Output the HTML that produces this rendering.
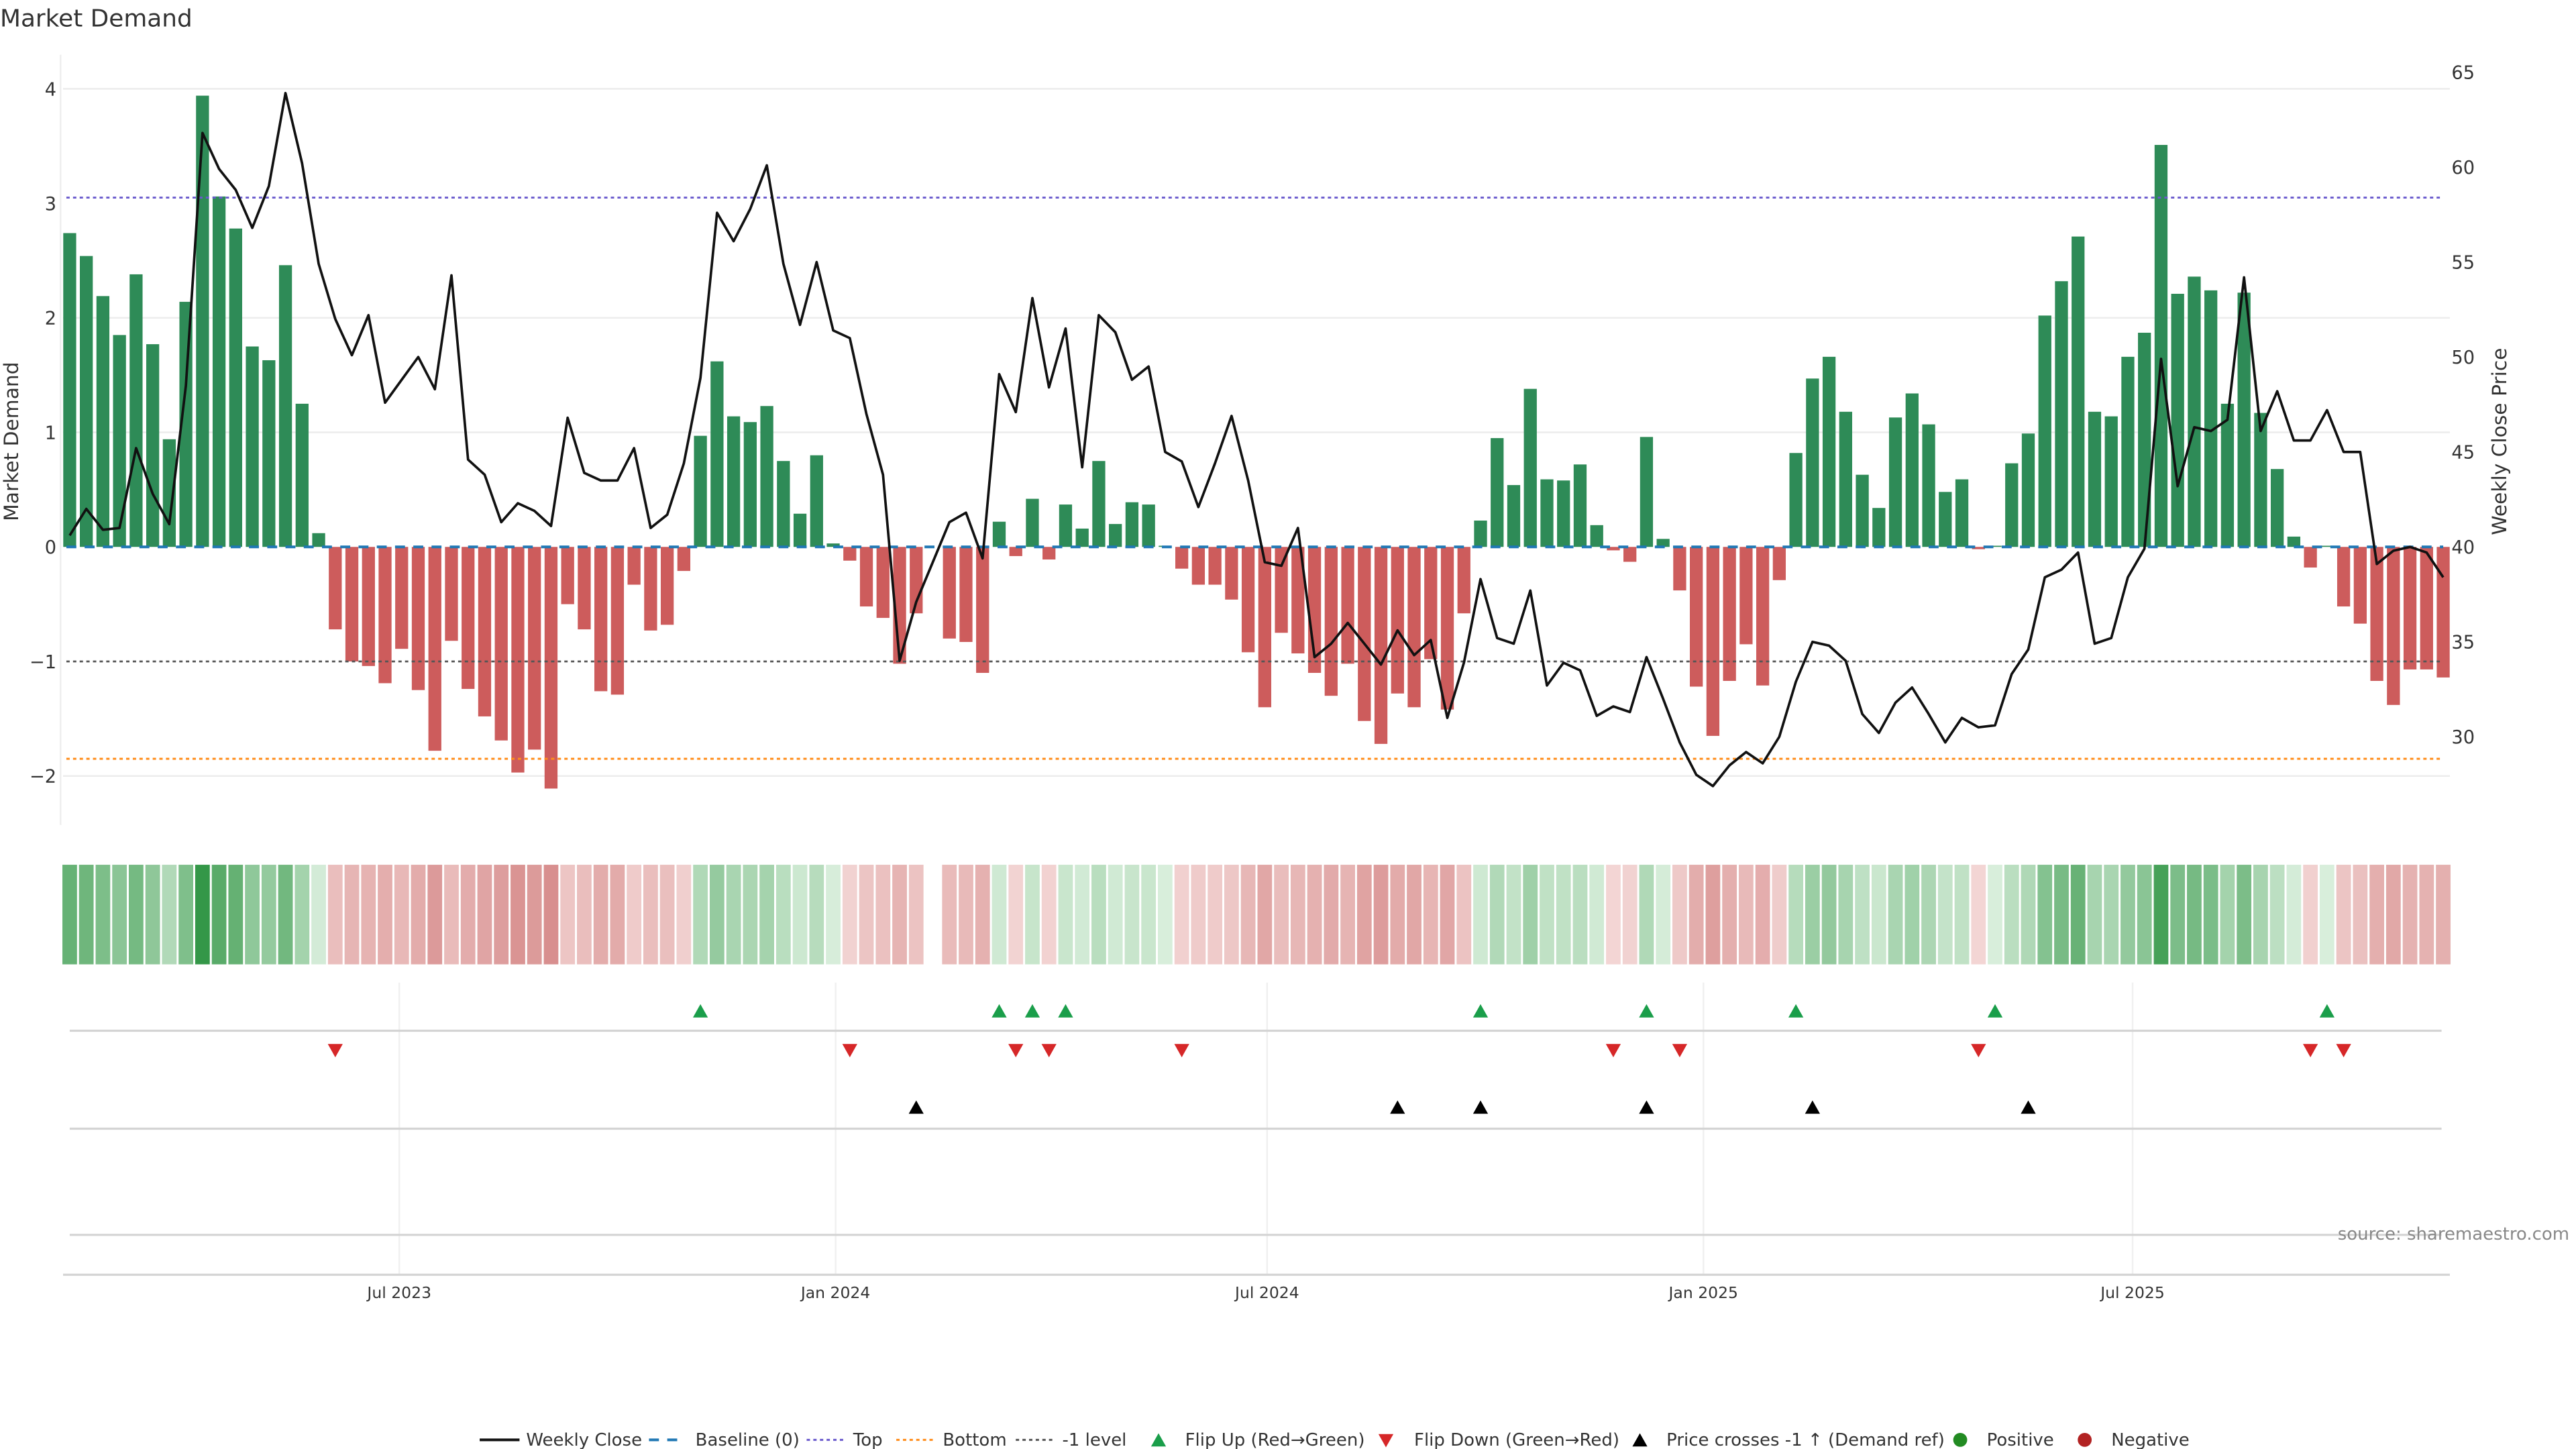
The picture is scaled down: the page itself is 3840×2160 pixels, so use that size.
<!DOCTYPE html>
<html><head><meta charset="utf-8"><style>
html,body{margin:0;padding:0;background:#fff;}
svg{display:block;font-family:"DejaVu Sans","Liberation Sans",sans-serif;}
</style></head><body>
<svg id="chart" width="3840" height="2160" viewBox="0 0 1552 873" xmlns="http://www.w3.org/2000/svg">
<text x="0" y="16" font-size="14.5" fill="#333">Market Demand</text>
<line x1="36.5" y1="33" x2="36.5" y2="497" stroke="#eee" stroke-width="1"/>
<g id="grid"></g>
<g id="bars"></g>
<g id="refs"></g>
<path id="price" fill="none" stroke="#111" stroke-width="1.5" stroke-linejoin="round"/>
<g id="ticks"></g>
<text transform="translate(11,266) rotate(-90)" text-anchor="middle" font-size="12" fill="#333">Market Demand</text>
<text transform="translate(1510,266) rotate(-90)" text-anchor="middle" font-size="12" fill="#333">Weekly Close Price</text>
<g id="heat"></g>
<g id="events"></g>
<text x="1548" y="747" text-anchor="end" font-size="10.5" fill="#888">source: sharemaestro.com</text>
<g id="legend" font-size="10.5" fill="#333"></g>
</svg>
<script>
const demand = [2.74,2.54,2.19,1.85,2.38,1.77,0.94,2.14,3.94,3.06,2.78,1.75,1.63,2.46,1.25,0.12,-0.72,-1.0,-1.04,-1.19,-0.89,-1.25,-1.78,-0.82,-1.24,-1.48,-1.69,-1.97,-1.77,-2.11,-0.50,-0.72,-1.26,-1.29,-0.33,-0.73,-0.68,-0.21,0.97,1.62,1.14,1.09,1.23,0.75,0.29,0.80,0.03,-0.12,-0.52,-0.62,-1.02,-0.58,null,-0.80,-0.83,-1.10,0.22,-0.08,0.42,-0.11,0.37,0.16,0.75,0.20,0.39,0.37,0.01,-0.19,-0.33,-0.33,-0.46,-0.92,-1.40,-0.75,-0.93,-1.10,-1.30,-1.02,-1.52,-1.72,-1.28,-1.40,-0.98,-1.42,-0.58,0.23,0.95,0.54,1.38,0.59,0.58,0.72,0.19,-0.03,-0.13,0.96,0.07,-0.38,-1.22,-1.65,-1.17,-0.85,-1.21,-0.29,0.82,1.47,1.66,1.18,0.63,0.34,1.13,1.34,1.07,0.48,0.59,-0.02,0.01,0.73,0.99,2.02,2.32,2.71,1.18,1.14,1.66,1.87,3.51,2.21,2.36,2.24,1.25,2.22,1.17,0.68,0.09,-0.18,0.01,-0.52,-0.67,-1.17,-1.38,-1.07,-1.07,-1.14];
const closePrice = [40.6,42.0,40.9,41.0,45.2,42.8,41.2,48.5,61.8,59.9,58.8,56.8,59.0,63.9,60.2,54.9,52.0,50.1,52.2,47.6,48.8,50.0,48.3,54.3,44.6,43.8,41.3,42.3,41.9,41.1,46.8,43.9,43.5,43.5,45.2,41.0,41.7,44.4,48.9,57.6,56.1,57.8,60.1,54.9,51.7,55.0,51.4,51.0,47.0,43.8,34.0,37.1,39.2,41.3,41.8,39.4,49.1,47.1,53.1,48.4,51.5,44.2,52.2,51.3,48.8,49.5,45.0,44.5,42.1,44.4,46.9,43.5,39.2,39.0,41.0,34.2,34.9,36.0,34.9,33.8,35.6,34.3,35.1,31.0,33.9,38.3,35.2,34.9,37.7,32.7,33.9,33.5,31.1,31.6,31.3,34.2,32.0,29.7,28.0,27.4,28.5,29.2,28.6,30.0,32.9,35.0,34.8,34.0,31.2,30.2,31.8,32.6,31.2,29.7,31.0,30.5,30.6,33.3,34.6,38.4,38.8,39.7,34.9,35.2,38.4,39.9,49.9,43.2,46.3,46.1,46.7,54.2,46.1,48.2,45.6,45.6,47.2,45.0,45.0,39.1,39.8,40.0,39.7,38.4];
const leftTicks = [4,3,2,1,0,-1,-2];
const rightTicks = [65,60,55,50,45,40,35,30];
const dateTicks = ["2023-07-01","2024-01-01","2024-07-01","2025-01-01","2025-07-01"];
const dateLabels = ["Jul 2023","Jan 2024","Jul 2024","Jan 2025","Jul 2025"];
const topLevel = 3.05, bottomLevel = -1.85, minusLevel = -1, refPrice = 34;

const NS="http://www.w3.org/2000/svg";
function mk(tag, attrs, parent){const e=document.createElementNS(NS,tag);for(const k in attrs)e.setAttribute(k,attrs[k]);parent.appendChild(e);return e;}
const xi = i => 42 + i*10;
const yL = v => 329.5 - v*69;
const yR = p => 329.5 - (p-40)*11.44;
const t0 = Date.UTC(2023,1,12);
const xd = s => 42 + (Date.parse(s+"T00:00:00Z")-t0)/86400000/7*10;
const $ = id => document.getElementById(id);

// grid
[4,2,1,-2].forEach(v=>{const l=mk('line',{x1:38,x2:1476,y1:yL(v),y2:yL(v),stroke:'#ececec','stroke-width':1},$('grid'));

});

// bars
demand.forEach((v,i)=>{ if(v===null) return;
  const y=Math.min(yL(v),yL(0)), h=Math.abs(yL(v)-yL(0));
  const r=mk('rect',{x:xi(i)-3.9,y:y,width:7.8,height:Math.max(h,0.3),fill:v>=0?'#2e8b57':'#cd5c5c'},$('bars'));
  
  
});

// reference lines
[[0,'#1f77b4','6,5',1.6,'baseline-line'],[topLevel,'#6a5acd','2,2',1.2,'top-line'],[bottomLevel,'#ff8c1a','2,2',1.2,'bottom-line'],[minusLevel,'#555','2,2',1.1,'minus-one-line']].forEach(d=>{
  const l=mk('line',{x1:40,x2:1472,y1:yL(d[0]),y2:yL(d[0]),stroke:d[1],'stroke-dasharray':d[2],'stroke-width':d[3]},$('refs'));
  
  
});

// price line
$('price').setAttribute('d', closePrice.map((p,i)=>(i?'L':'M')+xi(i)+','+yR(p).toFixed(1)).join(''));

// ticks
leftTicks.forEach(v=>{const t=mk('text',{x:34,y:yL(v)+4,'text-anchor':'end','font-size':11,fill:'#333'},$('ticks'));t.textContent=(v<0?'\u2212'+(-v):v);

});
rightTicks.forEach(v=>{const t=mk('text',{x:1477,y:yR(v)+4,'font-size':11,fill:'#333'},$('ticks'));t.textContent=v;

});
dateTicks.forEach((d,i)=>{const x=xd(d);
  const g=mk('line',{x1:x,x2:x,y1:592,y2:768,stroke:'#f0f0f0','stroke-width':1},$('ticks'));
  
  
  const t=mk('text',{x:x,y:782,'text-anchor':'middle','font-size':9.5,fill:'#333'},$('ticks'));t.textContent=dateLabels[i];
  
  });

// heatmap
function heatColor(v){const t=Math.min(Math.abs(v)/4,1);
  if(v>=0){return `rgb(${Math.round(216-166*t)},${Math.round(238-88*t)},${Math.round(219-149*t)})`;}
  return `rgb(${Math.round(243-51*t)},${Math.round(214-134*t)},${Math.round(213-133*t)})`;}
demand.forEach((v,i)=>{ if(v===null) return;
  const r=mk('rect',{x:xi(i)-4.4,y:521,width:8.8,height:60,fill:heatColor(v)},$('heat'));
  
  
});

// event panels
[621,680,744].forEach(y=>{const l=mk('line',{x1:42,x2:1471,y1:y,y2:y,stroke:'#d4d4d4','stroke-width':1.3},$('events'));

});
const ax=mk('line',{x1:38,x2:1476,y1:768,y2:768,stroke:'#d4d4d4','stroke-width':1.3},$('events'));


function tri(x,y,up,color,name){
  const p=up?`${x-4.5},${y+4} ${x+4.5},${y+4} ${x},${y-4}`:`${x-4.5},${y-4} ${x+4.5},${y-4} ${x},${y+4}`;
  const e=mk('polygon',{points:p,fill:color},$('events'));
  
  
}
let prev=null;
demand.forEach((v,i)=>{ if(v===null) return;
  if(prev!==null){
    if(v>0 && prev<=0) tri(xi(i),609,true,'#1a9e4a','flip-up-marker');
    if(v<=0 && prev>0) tri(xi(i),633,false,'#d62728','flip-down-marker');
  }
  prev=v;
});
closePrice.forEach((p,i)=>{ if(i>0 && closePrice[i-1]<=refPrice && p>refPrice) tri(xi(i),667,true,'#000','price-cross-marker'); });

// legend
const L=$('legend');
function lt(x,s){const t=mk('text',{x:x,y:871},L);t.textContent=s;

}
function ll(x1,x2,c,da,w){const l=mk('line',{x1:x1,x2:x2,y1:867.5,y2:867.5,stroke:c,'stroke-width':w,'stroke-dasharray':da},L);

}
ll(289,313,'#111','none',1.6);lt(317,'Weekly Close');
ll(391,411,'#1f77b4','6,5',1.6);lt(419,'Baseline (0)');
ll(486,508,'#6a5acd','2,2',1.2);lt(514,'Top');
ll(540,562,'#ff8c1a','2,2',1.2);lt(568,'Bottom');
ll(612,634,'#555','2,2',1.2);lt(640,'-1 level');
let e;
e=mk('polygon',{points:'693.5,871.5 702.5,871.5 698,863.5',fill:'#1a9e4a'},L);


lt(714,'Flip Up (Red\u2192Green)');
e=mk('polygon',{points:'830.5,864 839.5,864 835,872',fill:'#d62728'},L);


lt(852,'Flip Down (Green\u2192Red)');
e=mk('polygon',{points:'983.5,871.5 992.5,871.5 988,863.5',fill:'#000'},L);


lt(1004,'Price crosses -1 \u2191 (Demand ref)');
e=mk('circle',{cx:1181,cy:867.5,r:4.2,fill:'#228b22'},L);


lt(1197,'Positive');
e=mk('circle',{cx:1256,cy:867.5,r:4.2,fill:'#b22222'},L);


lt(1272,'Negative');
</script>
</body></html>
